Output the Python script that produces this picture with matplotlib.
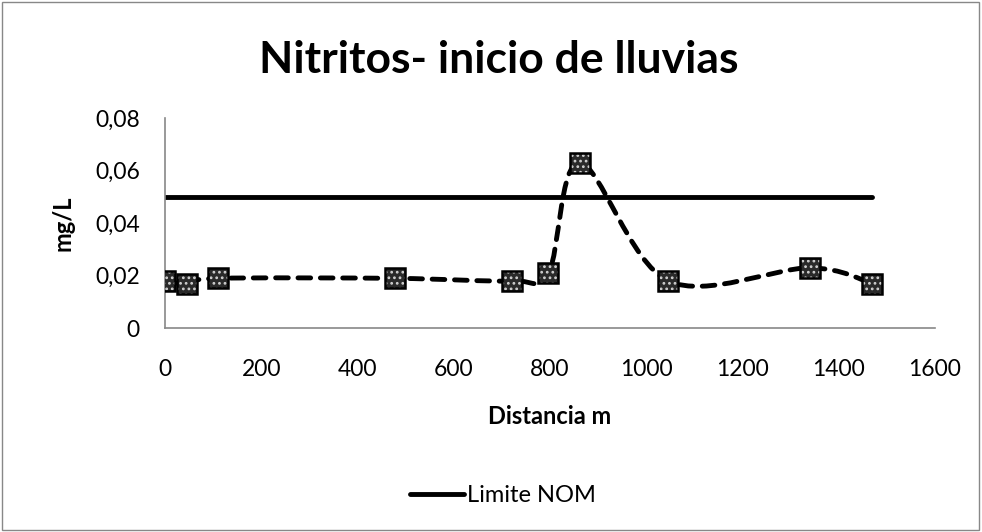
import numpy as np
import matplotlib.pyplot as plt
from matplotlib.path import Path
from matplotlib.patches import PathPatch
from matplotlib.lines import Line2D

# data
distancia = [0, 45, 110, 478, 722, 797, 862, 1046, 1340, 1470]
nitritos = [0.018, 0.017, 0.019, 0.019, 0.018, 0.021, 0.063, 0.018, 0.023, 0.017]
limite = [0.05] * len(distancia)

y_ticks = [0, 0.02, 0.04, 0.06, 0.08]
y_tick_labels = ['0', '0,02', '0,04', '0,06', '0,08']
x_ticks = [0, 200, 400, 600, 800, 1000, 1200, 1400, 1600]


def smooth_path(xs, ys, t=1 / 6):
    # Excel-like smoothed line: cubic bezier segments through the points
    xs = np.asarray(xs, float)
    ys = np.asarray(ys, float)
    verts = [(xs[0], ys[0])]
    codes = [Path.MOVETO]
    n = len(xs)
    for i in range(n - 1):
        p0 = i - 1 if i > 0 else i
        p3 = i + 2 if i + 2 < n else i + 1
        c1 = (xs[i] + (xs[i + 1] - xs[p0]) * t, ys[i] + (ys[i + 1] - ys[p0]) * t)
        c2 = (xs[i + 1] - (xs[p3] - xs[i]) * t, ys[i + 1] - (ys[p3] - ys[i]) * t)
        verts += [c1, c2, (xs[i + 1], ys[i + 1])]
        codes += [Path.CURVE4] * 3
    return Path(verts, codes)


def main():
    plt.rcParams['font.family'] = ['Lato', 'DejaVu Sans']
    plt.rcParams['hatch.linewidth'] = 1.2
    fig = plt.figure(figsize=(9.82, 5.32), dpi=100)
    fig.patches.append(plt.Rectangle((0.002, 0.003), 0.995, 0.994, transform=fig.transFigure,
                                     fill=False, edgecolor='#888888', linewidth=1))
    ax = fig.add_axes([0.168, 0.383, 0.784, 0.395])

    ax.plot(distancia, limite, color='black', linewidth=3.5, solid_capstyle='round', zorder=2)

    patch = PathPatch(smooth_path(distancia, nitritos), facecolor='none', edgecolor='black',
                      linewidth=3.5, linestyle=(0, (2.6, 2.0)), capstyle='round', zorder=3)
    ax.add_patch(patch)
    ax.scatter(distancia, nitritos, marker='s', s=210, facecolor='#2a2a2a', edgecolor='#d0d0d0',
               hatch='...', linewidth=0, zorder=4)
    ax.plot(distancia, nitritos, linestyle='none', marker='s', markersize=14.5,
            markerfacecolor='none', markeredgecolor='black', markeredgewidth=1.8, zorder=5)

    ax.set_xlim(0, 1600)
    ax.set_ylim(0, 0.08)
    ax.set_xticks(x_ticks)
    ax.set_yticks(y_ticks)
    ax.set_yticklabels(y_tick_labels)
    ax.tick_params(length=0, labelsize=16.5)
    ax.tick_params(axis='y', pad=18)
    ax.tick_params(axis='x', pad=22)
    for s in ['top', 'right']:
        ax.spines[s].set_visible(False)
    for s in ['left', 'bottom']:
        ax.spines[s].set_color('#888888')
        ax.spines[s].set_linewidth(1.2)

    ax.set_xlabel('Distancia m', fontsize=17, fontweight='bold', labelpad=18)
    ax.set_ylabel('mg/L', fontsize=17, fontweight='bold', labelpad=15)
    fig.text(0.508, 1 - 73 / 532, 'Nitritos- inicio de lluvias', fontsize=32, fontweight='bold',
             ha='center', va='baseline')

    handle = Line2D([], [], color='black', linewidth=3.5, solid_capstyle='round')
    fig.legend([handle], ['Limite NOM'], loc='center', bbox_to_anchor=(0.512, 0.068),
               frameon=False, fontsize=17, handlelength=2.3, handletextpad=0.1)

    fig.savefig('out.png', dpi=100)


main()
